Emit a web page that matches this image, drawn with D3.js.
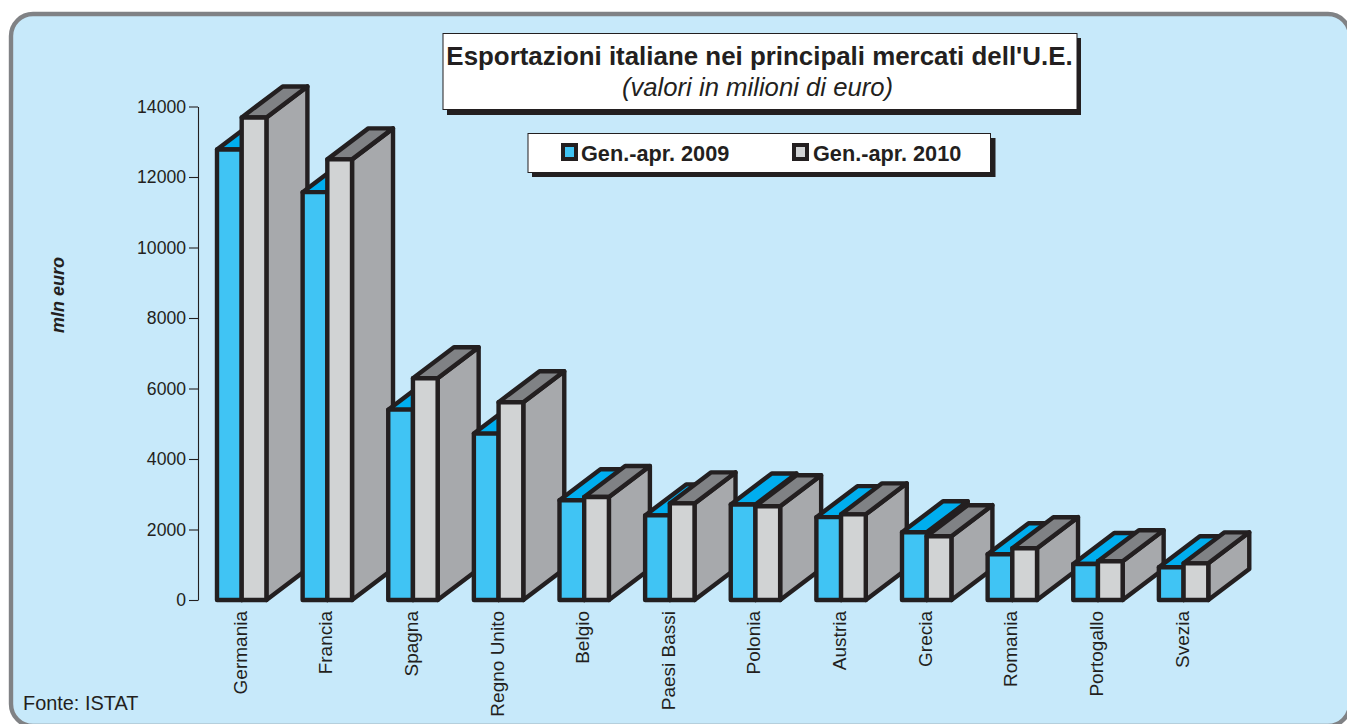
<!DOCTYPE html>
<html><head><meta charset="utf-8">
<script src="https://d3js.org/d3.v7.min.js"></script>
<style>html,body{margin:0;padding:0;background:#fff;overflow:hidden}svg{display:block}text{font-family:"Liberation Sans",Arial,sans-serif;fill:#231f20}</style>
</head><body><svg id="c" width="1347" height="724"></svg>
<script>
const categories=["Germania","Francia","Spagna","Regno Unito","Belgio","Paesi Bassi","Polonia","Austria","Grecia","Romania","Portogallo","Svezia"];
const values2009=[12780,11570,5400,4720,2830,2400,2710,2350,1920,1300,1020,930];
const values2010=[13690,12500,6290,5610,2920,2740,2660,2430,1810,1470,1100,1040];
const seriesNames=["Gen.-apr. 2009","Gen.-apr. 2010"];
const yTicks=[0,2000,4000,6000,8000,10000,12000,14000];

const svg=d3.select("#c");
const ink="#231f20";
svg.append("rect").attr("x",11).attr("y",14).attr("width",1339).attr("height",712).attr("rx",22)
  .attr("fill","#c7e9fa").attr("stroke","#808285").attr("stroke-width",4.4);

const y=d3.scaleLinear().domain([0,14000]).range([600,106.5]);
const x=d3.scaleBand().domain(categories).range([217,1244.5]).paddingInner(0).paddingOuter(0);
const barW=24.7, dx=41, dy=31;

const axis=d3.axisLeft(y).tickValues(yTicks).tickSize(9).tickSizeOuter(0).tickPadding(3).tickFormat(d3.format("d"));
const ax=svg.append("g").attr("transform","translate(198,0)").call(axis);
ax.selectAll("path,line").attr("stroke",ink).attr("stroke-width",1.1);
ax.selectAll("text").attr("font-size",17.6).attr("fill",ink).style("font-family",'"Liberation Sans",Arial,sans-serif');

const styles=[{front:"#40c4f4",top:"#00aeef",side:"#00aeef"},{front:"#d1d3d4",top:"#808285",side:"#a7a9ac"}];
function box(g,x0,v,s){
  const yt=y(v), yb=y(0), x1=x0+barW;
  const line=p=>"M"+p.map(d=>d.join(",")).join("L")+"Z";
  g.append("path").attr("d",line([[x1,yt],[x1+dx,yt-dy],[x1+dx,yb-dy],[x1,yb]])).attr("fill",s.side);
  g.append("path").attr("d",line([[x0,yt],[x0+dx,yt-dy],[x1+dx,yt-dy],[x1,yt]])).attr("fill",s.top);
  g.append("path").attr("d",line([[x0,yt],[x1,yt],[x1,yb],[x0,yb]])).attr("fill",s.front);
}
const bars=svg.append("g").attr("stroke",ink).attr("stroke-width",4.4).attr("stroke-linejoin","round");
categories.forEach((c,i)=>{
  const g=bars.append("g").attr("class","cat");
  box(g,x(c),values2009[i],styles[0]);
  box(g,x(c)+barW,values2010[i],styles[1]);
});

svg.append("g").selectAll("text").data(categories).join("text")
  .attr("transform",c=>`translate(${x(c)+barW+5},611) rotate(-90)`)
  .attr("text-anchor","end").attr("font-size",19).text(c=>c);

svg.append("text").attr("transform","translate(64,295) rotate(-90)").attr("text-anchor","middle")
  .attr("font-size",18).attr("font-weight","bold").attr("font-style","italic").text("mln euro");
svg.append("text").attr("x",23).attr("y",710).attr("font-size",19.9).text("Fonte: ISTAT");

// Title box
svg.append("rect").attr("x",447).attr("y",38).attr("width",634).attr("height",77).attr("fill",ink);
svg.append("rect").attr("x",443).attr("y",33.5).attr("width",634).attr("height",76).attr("fill","#fff").attr("stroke",ink).attr("stroke-width",1);
svg.append("text").attr("x",759.5).attr("y",65).attr("text-anchor","middle").attr("font-size",25.9).attr("font-weight","bold").text("Esportazioni italiane nei principali mercati dell'U.E.");
svg.append("text").attr("x",757.5).attr("y",96).attr("text-anchor","middle").attr("font-size",25.7).attr("font-style","italic").text("(valori in milioni di euro)");

// Legend box
svg.append("rect").attr("x",532).attr("y",138).attr("width",463.5).attr("height",39).attr("fill",ink);
svg.append("rect").attr("x",528).attr("y",133.5).attr("width",462.5).attr("height",39).attr("fill","#fff").attr("stroke",ink).attr("stroke-width",1);
const legendX=[[563,581],[794,813]];
seriesNames.forEach((n,i)=>{
  svg.append("rect").attr("x",legendX[i][0]).attr("y",145).attr("width",13).attr("height",14)
    .attr("fill",styles[i].front).attr("stroke",ink).attr("stroke-width",4);
  svg.append("text").attr("x",legendX[i][1]).attr("y",160.5).attr("font-size",21.7).attr("font-weight","bold").text(n);
});
</script></body></html>
